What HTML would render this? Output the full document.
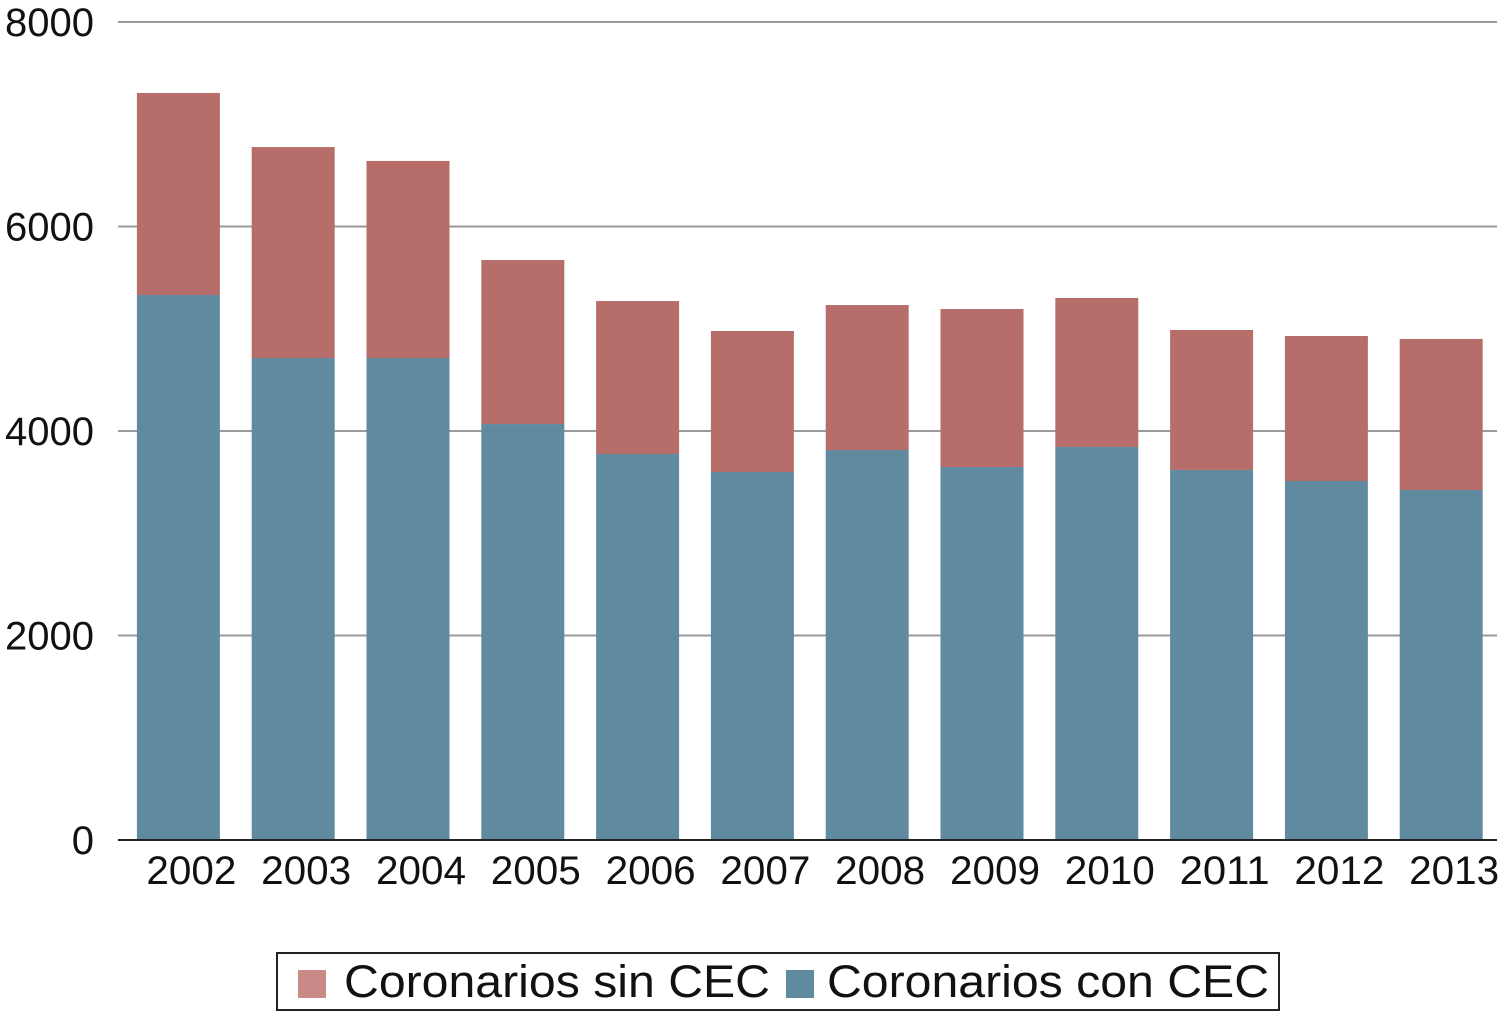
<!DOCTYPE html>
<html><head><meta charset="utf-8"><style>
body{margin:0;background:#fff;font-family:"Liberation Sans",sans-serif}
svg{display:block}
</style></head><body>
<svg id="chart" width="1500" height="1012" xmlns="http://www.w3.org/2000/svg"></svg>
<script>
const years=["2002","2003","2004","2005","2006","2007","2008","2009","2010","2011","2012","2013"];
const conCEC=[5330,4714,4714,4068,3775,3599,3814,3648,3844,3619,3511,3423];
const sinCEC=[1976,2063,1927,1604,1496,1379,1418,1545,1457,1369,1418,1477];
const yTicks=[0,2000,4000,6000,8000];
const svg=document.getElementById('chart');
const NS='http://www.w3.org/2000/svg';
const y0=840,y1=22,yMax=8000,xStart=121,band=114.8,bw=83;
const yS=v=>y0-(v/yMax)*(y0-y1);
const xS=i=>xStart+i*band+(band-bw)/2;
function mk(t,a,p){const e=document.createElementNS(NS,t);for(const k in a)e.setAttribute(k,a[k]);(p||svg).appendChild(e);return e;}
yTicks.forEach(v=>{
 if(v>0){const g=mk('line',{x1:118,x2:1497,y1:yS(v),y2:yS(v),stroke:'#9a9a9a','stroke-width':2});
 
 }
 const t=mk('text',{x:94,y:yS(v)+14,'text-anchor':'end','font-size':40,fill:'#111'});
 t.textContent=v;
 
 
});
years.forEach((yr,i)=>{
 const x=xS(i);
 const b=mk('rect',{x:x,y:yS(conCEC[i]),width:bw,height:y0-yS(conCEC[i]),fill:'#608aa0'});
 
 
 const tot=conCEC[i]+sinCEC[i];
 const r=mk('rect',{x:x,y:yS(tot),width:bw,height:yS(conCEC[i])-yS(tot),fill:'#b76e6b'});
 
 
 const t=mk('text',{x:x+bw/2+13,y:884,'text-anchor':'middle','font-size':40,fill:'#111',textLength:90,lengthAdjust:'spacingAndGlyphs'});
 t.textContent=yr;
 
 
});
const ax=mk('line',{x1:118,x2:1497,y1:y0,y2:y0,stroke:'#222','stroke-width':2});


const lg=mk('g',{});


mk('rect',{x:277,y:953,width:1002,height:57,fill:'#fff',stroke:'#222','stroke-width':2},lg);
const s1=mk('rect',{x:298,y:970,width:28,height:28,fill:'#c98a87'},lg);


const t1=mk('text',{x:344,y:997,'font-size':45,fill:'#111',textLength:426,lengthAdjust:'spacingAndGlyphs'},lg);
t1.textContent='Coronarios sin CEC';


const s2=mk('rect',{x:786,y:970,width:28,height:28,fill:'#608aa0'},lg);


const t2=mk('text',{x:827,y:997,'font-size':45,fill:'#111',textLength:442,lengthAdjust:'spacingAndGlyphs'},lg);
t2.textContent='Coronarios con CEC';


</script>
</body></html>
